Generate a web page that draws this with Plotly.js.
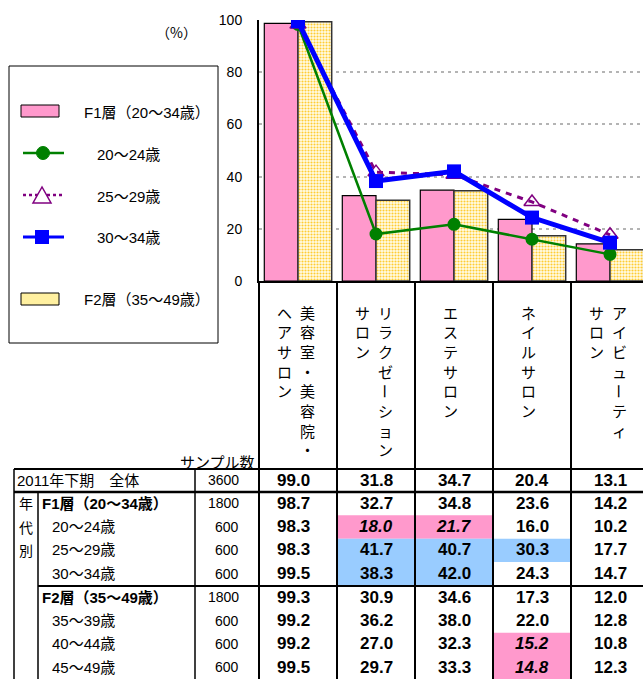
<!DOCTYPE html>
<html><head><meta charset="utf-8">
<script src="https://cdn.plot.ly/plotly-3.0.1.min.js"></script>
<style>html,body{margin:0;padding:0;background:#fff;overflow:hidden}</style>
</head><body><div id="chart" style="width:643px;height:679px"></div>
<script>
// ---------- data ----------
const categories = ['美容室・美容院・ヘアサロン','リラクゼーションサロン','エステサロン','ネイルサロン','アイビューティサロン'];
const labelBreak = [8, 8, 6, 6, 7];
const rowLabels = ['2011年下期　全体','F1層（20～34歳）','20～24歳','25～29歳','30～34歳','F2層（35～49歳）','35～39歳','40～44歳','45～49歳'];
const sampleSizes = [3600,1800,600,600,600,1800,600,600,600];
const valAll  = [99.0,31.8,34.7,20.4,13.1];
const valF1   = [98.7,32.7,34.8,23.6,14.2];
const val2024 = [98.3,18.0,21.7,16.0,10.2];
const val2529 = [98.3,41.7,40.7,30.3,17.7];
const val3034 = [99.5,38.3,42.0,24.3,14.7];
const valF2   = [99.3,30.9,34.6,17.3,12.0];
const val3539 = [99.2,36.2,38.0,22.0,12.8];
const val4044 = [99.2,27.0,32.3,15.2,10.8];
const val4549 = [99.5,29.7,33.3,14.8,12.3];
const tableRows = [valAll,valF1,val2024,val2529,val3034,valF2,val3539,val4044,val4549];
const lowCells  = [[2,1],[2,2],[7,3],[8,3]];
const highCells = [[3,1],[3,2],[3,3],[4,1],[4,2]];
const yTicks = [0,20,40,60,80,100];
const legendNames = ['F1層（20～34歳）','20～24歳','25～29歳','30～34歳','F2層（35～49歳）'];

// ---------- geometry helpers ----------
const W = 643, H = 679, L = 259, T = 20, B = 281, catW = 78;
const P = x => (x - L) / (W - L);
const Q = y => (B - y) / (B - T);
const colC = i => L + catW * (i + 0.5);
const FONT = 'Liberation Sans, Arial, Noto Sans CJK JP, sans-serif';
const JFONT = 'Noto Sans CJK JP, sans-serif';
const PINK = '#ff99cc', BLUE = '#99ccff';

const traces = [
  {type:'bar', name:legendNames[0], x:categories, y:valF1, showlegend:false,
   marker:{color:PINK, line:{color:'#000', width:1.2}}},
  {type:'bar', name:legendNames[4], x:categories, y:valF2, showlegend:false,
   marker:{color:'#fffbe0', line:{color:'#333', width:1.5},
     pattern:{shape:'.', fgcolor:'#ffcc33', bgcolor:'#fffce8', size:3, solidity:0.4}}},
  {type:'scatter', mode:'lines+markers', name:legendNames[1], x:categories, y:val2024, showlegend:false,
   line:{color:'#008000', width:2.5}, marker:{symbol:'circle', size:13, color:'#008000'}},
  {type:'scatter', mode:'lines+markers', name:legendNames[2], x:categories, y:val2529, showlegend:false,
   line:{color:'#800080', width:3, dash:'6px,6px'}, marker:{symbol:'triangle-up-open', size:14, color:'#800080', line:{width:1.5, color:'#800080'}}},
  {type:'scatter', mode:'lines+markers', name:legendNames[3], x:categories, y:val3034, showlegend:false,
   line:{color:'#0000ff', width:5}, marker:{symbol:'square', size:14, color:'#0000ff'}}
];

const shapes = [];
const ann = [];
const line = (x0,y0,x1,y1,w,c) => shapes.push({type:'line', xref:'paper', yref:'paper',
  x0:P(x0), y0:Q(y0), x1:P(x1), y1:Q(y1), line:{color:c||'#000', width:w}});
const rect = (x0,y0,x1,y1,fill,lw) => shapes.push({type:'rect', xref:'paper', yref:'paper',
  x0:P(x0), y0:Q(y0), x1:P(x1), y1:Q(y1), fillcolor:fill, line:{color:'#000', width:lw||0}});
const text = (t,x,y,opt) => ann.push(Object.assign({text:t, xref:'paper', yref:'paper', x:P(x), y:Q(y),
  showarrow:false, xanchor:'center', yanchor:'middle', font:{family:FONT, size:14, color:'#000'}}, opt||{}));

// ---------- table highlight cells ----------
const rowEdges = [469, 492, 515.3, 538.7, 562, 586, 609.3, 632.7, 656, 679];
lowCells.forEach(([r,c]) => rect(L+catW*c+1, rowEdges[r], L+catW*(c+1)-1, rowEdges[r+1], PINK, 0));
highCells.forEach(([r,c]) => rect(L+catW*c+1, rowEdges[r], L+catW*(c+1)-1, rowEdges[r+1], BLUE, 0));

// ---------- table lines ----------
for (let i = 0; i < 5; i++) line(L+catW*i, B, L+catW*i, H, 2);
line(195, 469, 195, H, 1.5);
line(14, 469, 14, H, 1.5);
line(38, 492, 38, H, 1.5);
line(14, 469, W, 469, 2);
line(14, 492, W, 492, 2.5);
line(38, 586, W, 586, 2);

// ---------- legend ----------
rect(9, 66, 218, 343, 'rgba(0,0,0,0)', 1);
rect(21, 105, 59, 117, PINK, 1);
rect(21, 293, 59, 305, '#fff0a0', 1);
line(23, 153, 64, 153, 2.5, '#008000');
shapes.push({type:'circle', xref:'paper', yref:'paper', x0:P(36.5), x1:P(49.5), y0:Q(146.5), y1:Q(159.5), fillcolor:'#008000', line:{color:'#008000', width:1}});
shapes.push({type:'line', xref:'paper', yref:'paper', x0:P(23), x1:P(62), y0:Q(195), y1:Q(195), line:{color:'#800080', width:2.5, dash:'3px,3px'}});
shapes.push({type:'path', xref:'paper', yref:'paper', fillcolor:'#fff', line:{color:'#800080', width:1.5},
  path:`M ${P(42)} ${Q(187)} L ${P(33)} ${Q(203)} L ${P(51)} ${Q(203)} Z`});
line(23, 237, 64, 237, 3, '#0000ff');
rect(35, 230, 49, 244, '#0000ff', 0);
const LF = {family:FONT, size:15, color:'#000'};
text(legendNames[0], 82, 112, {xanchor:'left', font:LF});
text(legendNames[1], 95, 154, {xanchor:'left', font:LF});
text(legendNames[2], 95, 196, {xanchor:'left', font:LF});
text(legendNames[3], 95, 238, {xanchor:'left', font:LF});
text(legendNames[4], 82, 299, {xanchor:'left', font:LF});
text('（%）', 176, 32, {font:{family:JFONT, size:14, color:'#000'}});

// ---------- vertical category labels ----------
categories.forEach((name, i) => {
  const cols = labelBreak[i] < name.length ? [name.slice(0, labelBreak[i]), name.slice(labelBreak[i])] : [name];
  const xs = cols.length === 2 ? [colC(i)+9, colC(i)-14] : [colC(i)-4];
  cols.forEach((s, k) => {
    Array.from(s).forEach((ch, j) => {
      text(ch, xs[k], 312 + j*19.7, {font:{family:JFONT, size:15, color:'#000'}, textangle: ch === 'ー' ? 90 : 0});
    });
  });
});

// ---------- table text ----------
text('サンプル数', 257, 461, {xanchor:'right', font:{family:JFONT, size:15, color:'#000'}});
['年','代','別'].forEach((ch, j) => text(ch, 26, (rowEdges[j+1]+rowEdges[j+2])/2 - 0.5, {font:{family:JFONT, size:14, color:'#000'}}));
rowLabels.forEach((lab, r) => {
  const yc = (rowEdges[r] + rowEdges[r+1]) / 2 - 0.5;
  const bold = (r === 1 || r === 5);
  const x = r === 0 ? 15 : (bold ? 40 : 50);
  text(bold ? '<b>'+lab+'</b>' : lab, x, yc, {xanchor:'left', font:{family:FONT, size:15, color:'#000'}});
  text(String(sampleSizes[r]), 241, yc, {xanchor:'right', font:{family:FONT, size:14, color:'#000'}});
  tableRows[r].forEach((v, c) => {
    const isLow = lowCells.some(([a,b]) => a === r && b === c);
    let t = '<b>' + v.toFixed(1) + '</b>';
    if (isLow) t = '<i>' + t + '</i>';
    text(t, colC(c) - (c === 0 ? 5 : 0), yc, {font:{family:FONT, size:17, color:'#000'}});
  });
});

const layout = {
  width: W, height: H,
  margin: {l: L, r: 0, t: T, b: H - B, pad: 0},
  paper_bgcolor: '#fff', plot_bgcolor: '#fff',
  barmode: 'group', bargap: 0.136, bargroupgap: 0,
  showlegend: false,
  font: {family: FONT, size: 14, color: '#000'},
  xaxis: {type:'category', range:[-0.5, -0.5 + (W - L)/catW], showticklabels:false, ticks:'',
    showline:true, linecolor:'#000', linewidth:2, showgrid:false, zeroline:false, fixedrange:true},
  yaxis: {range:[0,100], tickvals:yTicks, ticktext:yTicks.map(String), ticks:'outside', ticklen:12,
    tickcolor:'rgba(0,0,0,0)', showline:true, linecolor:'#000', linewidth:2,
    showgrid:true, gridcolor:'#b4b4b4', gridwidth:2, griddash:'3px,4px', zeroline:false,
    tickfont:{family:FONT, size:14, color:'#000'}, fixedrange:true},
  shapes: shapes,
  annotations: ann
};
Plotly.newPlot('chart', traces, layout, {displayModeBar:false, staticPlot:true});
</script></body></html>
